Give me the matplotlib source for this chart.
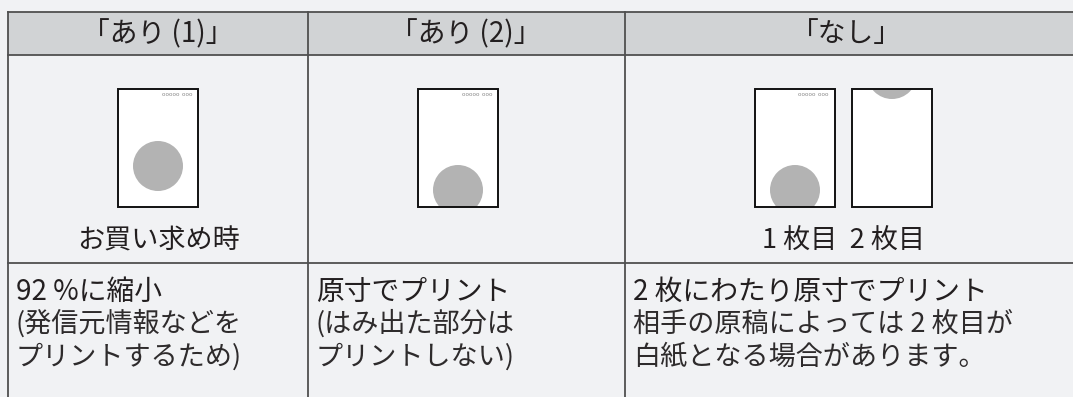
import matplotlib
matplotlib.use("Agg")
import matplotlib.pyplot as plt
from matplotlib.patches import Rectangle, Circle

plt.rcParams['font.family'] = ['Noto Sans CJK JP', 'DejaVu Sans']

headers = ["「あり (1)」", "「あり (2)」", "「なし」"]
image_captions = ["お買い求め時", "", "1 枚目  2 枚目"]
desc_titles = ["92 %に縮小", "原寸でプリント", "2 枚にわたり原寸でプリント"]
desc_lines = [
    ["(発信元情報などを", "プリントするため)"],
    ["(はみ出た部分は", "プリントしない)"],
    ["相手の原稿によっては 2 枚目が", "白紙となる場合があります。"],
]
sender_mark = "ooooo  ooo"

W, H = 1073, 397
fig = plt.figure(figsize=(W / 100, H / 100), dpi=100)
fig.patch.set_facecolor("#f1f2f4")
ax = fig.add_axes([0, 0, 1, 1])
ax.set_xlim(0, W)
ax.set_ylim(H, 0)
ax.axis("off")

hdr = "#d1d3d5"
line_c = "#505050"
txt_c = "#231f20"

col_x = [8, 308, 625, W + 2]
top, hdr_bot, row_bot = 12, 55, 263

ax.add_patch(Rectangle((col_x[0], top), W - col_x[0] + 2, hdr_bot - top, facecolor=hdr, edgecolor="none"))
for y in [top, hdr_bot, row_bot]:
    ax.plot([col_x[0], W + 2], [y, y], color=line_c, lw=1.3)
for x in col_x[:3]:
    ax.plot([x, x], [top, H + 2], color=line_c, lw=1.3)

hdr_cx = [158, 466, 846]
for i, h in enumerate(headers):
    ax.text(hdr_cx[i], 34, h, ha="center", va="center", fontsize=20, color=txt_c)


def paper(x0, circle_c=None, mark=True):
    pw, ph, py = 80, 118, 89
    ax.add_patch(Rectangle((x0, py), pw, ph, facecolor="white", edgecolor="none", zorder=2))
    clip = Rectangle((x0, py), pw, ph, transform=ax.transData)
    if circle_c is not None:
        c = Circle(circle_c, 25, facecolor="#b3b3b3", edgecolor="none", zorder=3)
        ax.add_patch(c)
        c.set_clip_path(clip)
    if mark:
        ax.text(x0 + pw - 6, py + 6, sender_mark, ha="right", va="center",
                fontsize=4.2, color="#888888", zorder=4)
    ax.add_patch(Rectangle((x0, py), pw, ph, facecolor="none", edgecolor="#111111", lw=1.4, zorder=5))


paper(118, (158, 166))
paper(418, (458, 190))
paper(755, (795, 190))
paper(852, (892, 74), mark=False)

ax.text(158, 241, image_captions[0], ha="center", va="center", fontsize=19.5, color=txt_c)
ax.text(844, 241, image_captions[2], ha="center", va="center", fontsize=19.5, color=txt_c)

text_x = [16, 316, 633]
for i in range(3):
    ax.text(text_x[i], 292, desc_titles[i], ha="left", va="center", fontsize=20, color=txt_c)
    for j, ln in enumerate(desc_lines[i]):
        ax.text(text_x[i], 324 + j * 33, ln, ha="left", va="center", fontsize=19.5, color="#2e2b2c")

fig.savefig("out.png", dpi=100, facecolor=fig.get_facecolor())
